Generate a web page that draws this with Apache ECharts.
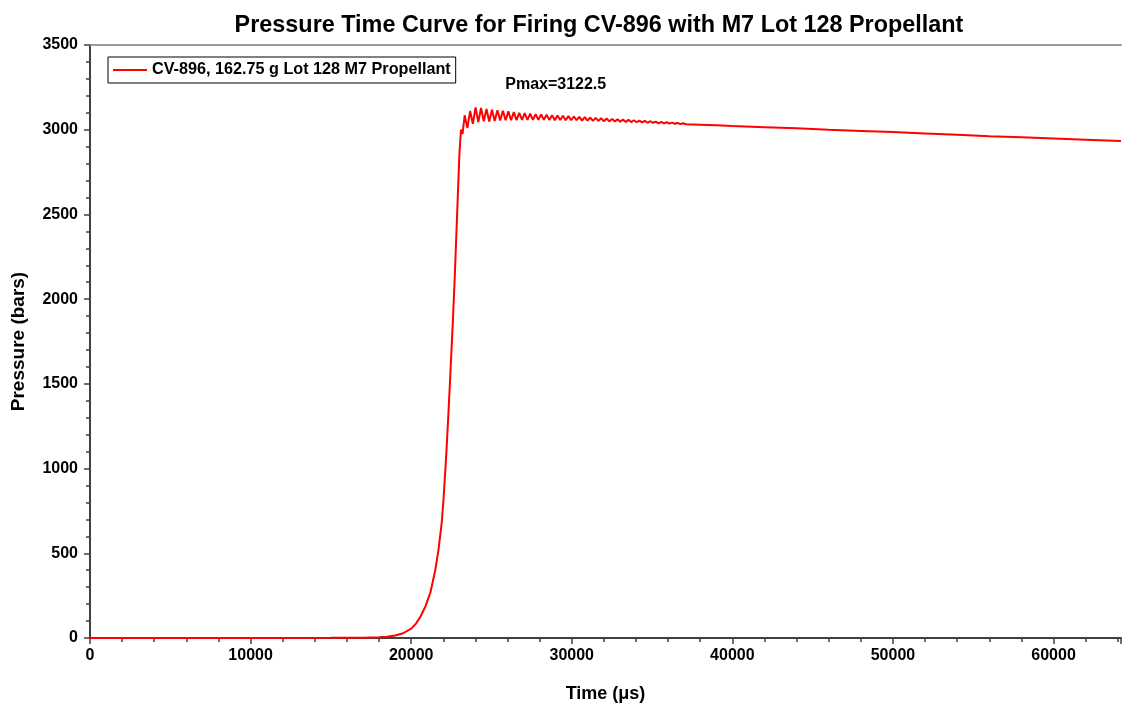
<!DOCTYPE html>
<html>
<head>
<meta charset="utf-8">
<script src="https://cdn.jsdelivr.net/npm/echarts@6/dist/echarts.min.js"></script>
<style>html,body{margin:0;padding:0;background:#fff}#c{width:1122px;height:709px}</style>
</head>
<body>
<div id="c"></div>
<script>
const titleText = 'Pressure Time Curve for Firing CV-896 with M7 Lot 128 Propellant';
const seriesName = 'CV-896, 162.75 g Lot 128 M7 Propellant';
const xAxisName = 'Time (μs)';
const yAxisName = 'Pressure (bars)';
const annotationText = 'Pmax=3122.5';
const annotationCoord = [29000, 3265];
const xTicks = [0, 10000, 20000, 30000, 40000, 50000, 60000];
const yTicks = [0, 500, 1000, 1500, 2000, 2500, 3000, 3500];

// [time µs, pressure bars]
const riseData = [
  [0,0],[5000,0],[10000,0],[15000,1],[17000,2],[18000,5],[18500,8],[19000,15],[19500,28],
  [20000,55],[20300,85],[20600,130],[20900,190],[21200,270],[21500,400],[21700,520],
  [21900,680],[22000,800],[22100,950],[22200,1110],[22300,1290],[22400,1480],[22500,1680],
  [22600,1880],[22700,2100],[22800,2350],[22900,2600],[23000,2850],[23100,3000]
];
const oscData = [
  [23200,2975],[23330,3085],[23500,3010],[23670,3110],[23840,3035],[24010,3132],[24180,3045],
  [24350,3128],[24520,3050],[24690,3122],[24860,3048],[25030,3118],[25200,3052],[25370,3115],
  [25540,3054],[25710,3112],[25880,3056],[26050,3108],[26220,3056],[26390,3104],[26560,3056],
  [26730,3100],[26900,3058],[27070,3098],[27240,3058],[27410,3095],[27580,3058],[27750,3092],
  [27920,3058],[28090,3090],[28260,3058],[28430,3088],[28600,3058],[28770,3086],[28940,3056],
  [29110,3084],[29280,3057],[29450,3082],[29620,3056],[29790,3080],[29960,3056],[30130,3078],
  [30300,3056],[30470,3076],[30640,3054],[30810,3074],[30980,3054],[31150,3072],[31320,3052],
  [31490,3070],[31660,3052],[31830,3068],[32000,3050],[32170,3066],[32340,3049],[32510,3064],
  [32680,3048],[32850,3062],[33020,3047],[33190,3060],[33360,3046],[33530,3058],[33700,3045],
  [33870,3056],[34040,3044],[34210,3054],[34380,3043],[34550,3052],[34720,3041],[34890,3050],
  [35060,3040],[35230,3048],[35400,3038],[35570,3046],[35740,3037],[35910,3044],[36080,3036],
  [36250,3042],[36420,3035],[36590,3040],[36760,3033],[36930,3038],[37100,3032]
];
const tailData = [
  [38000,3030],[39000,3026],[40000,3022],[42000,3015],[44000,3008],[46000,3000],[48000,2993],
  [50000,2986],[52000,2978],[54000,2970],[56000,2962],[58000,2955],[60000,2948],[62000,2941],[64200,2933]
];
const pressureData = riseData.concat(oscData, tailData);

const FONT = '"Liberation Sans", Arial, sans-serif';
const chart = echarts.init(document.getElementById('c'), null, {renderer: 'canvas'});
chart.setOption({
  animation: false,
  backgroundColor: '#ffffff',
  title: {
    text: titleText, left: 594, top: 9, textAlign: 'center',
    textStyle: {fontFamily: FONT, fontWeight: 'bold', fontSize: 23.4, color: '#000'}
  },
  legend: {
    left: 108, top: 57, orient: 'vertical',
    padding: [5, 5, 5, 5],
    borderColor: '#000', borderWidth: 1, backgroundColor: '#fff',
    itemWidth: 34, itemHeight: 14, itemGap: 5,
    icon: 'path://M0,6L34,6L34,8L0,8Z',
    textStyle: {fontFamily: FONT, fontWeight: 'bold', fontSize: 16.2, color: '#000'},
    data: [seriesName]
  },
  grid: {left: 90, right: 1, top: 45, bottom: 71, containLabel: false, outerBoundsMode: 'none'},
  xAxis: [{
    type: 'value', min: 0, max: 64200, interval: 10000,
    name: xAxisName, nameLocation: 'middle', nameGap: 47,
    nameTextStyle: {fontFamily: FONT, fontWeight: 'bold', fontSize: 18, color: '#000'},
    axisLine: {show: true, onZero: false, lineStyle: {color: '#404040', width: 2}},
    axisTick: {show: true, inside: false, length: 6, lineStyle: {color: '#404040', width: 1.5}},
    minorTick: {show: true, splitNumber: 5, length: 4, lineStyle: {color: '#404040', width: 1.5}},
    axisLabel: {fontFamily: FONT, fontWeight: 'bold', fontSize: 16, color: '#000', margin: 10,
      customValues: xTicks, formatter: v => String(v)},
    splitLine: {show: false}
  }, {
    type: 'value', min: 0, max: 64200, position: 'top',
    axisLine: {show: true, onZero: false, lineStyle: {color: '#999', width: 2}},
    axisTick: {show: false}, axisLabel: {show: false}, splitLine: {show: false}
  }],
  yAxis: {
    type: 'value', min: 0, max: 3500, interval: 500,
    name: yAxisName, nameLocation: 'middle', nameGap: 62, nameRotate: 90,
    nameTextStyle: {fontFamily: FONT, fontWeight: 'bold', fontSize: 19, color: '#000'},
    axisLine: {show: true, onZero: false, lineStyle: {color: '#404040', width: 2}},
    axisTick: {show: true, inside: false, length: 6, lineStyle: {color: '#404040', width: 1.5}},
    minorTick: {show: true, splitNumber: 5, length: 4, lineStyle: {color: '#404040', width: 1.5}},
    axisLabel: {fontFamily: FONT, fontWeight: 'bold', fontSize: 16, color: '#000', margin: 12,
      customValues: yTicks, formatter: v => String(v)},
    splitLine: {show: false}
  },
  series: [{
    name: seriesName, type: 'line', xAxisIndex: 0,
    data: pressureData, showSymbol: false, symbol: 'none',
    lineStyle: {color: '#ff0000', width: 2},
    itemStyle: {color: '#ff0000'},
    markPoint: {
      symbol: 'circle', symbolSize: 0,
      label: {show: true, formatter: annotationText, fontFamily: FONT, fontWeight: 'bold',
        fontSize: 16, color: '#000', position: 'inside'},
      data: [{coord: annotationCoord}]
    }
  }]
});
</script>
</body>
</html>
